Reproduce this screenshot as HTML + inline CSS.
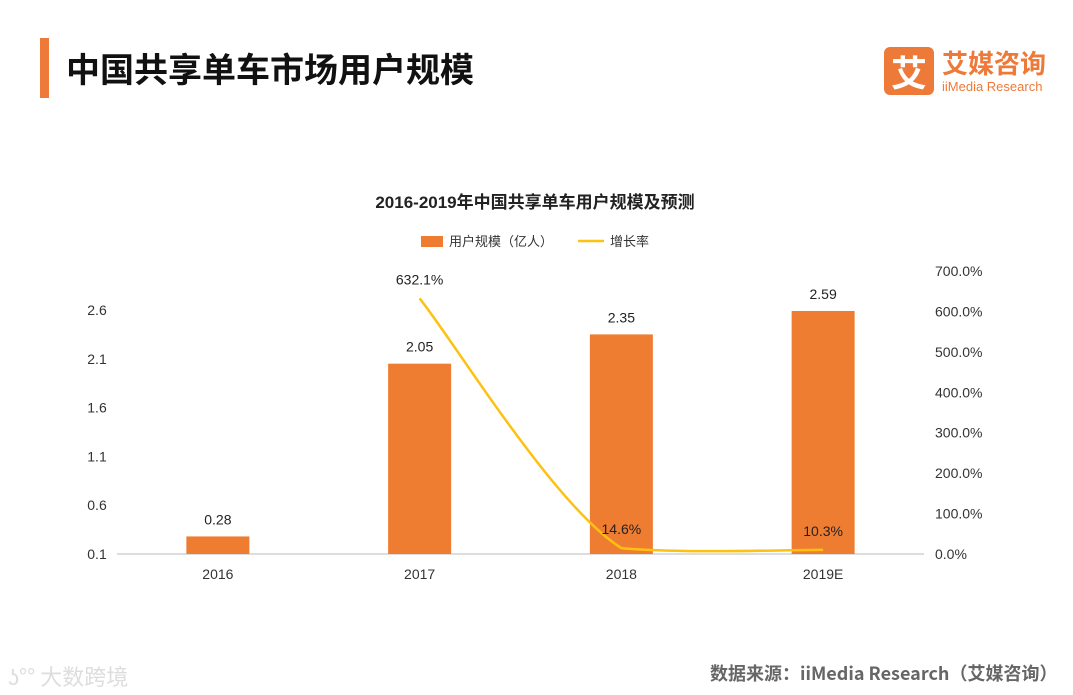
<!DOCTYPE html>
<html><head><meta charset="utf-8"><style>
body{margin:0;width:1073px;height:695px;background:#fff;overflow:hidden;font-family:"Liberation Sans","Noto Sans CJK SC",sans-serif;position:relative}
.abs{position:absolute}
</style></head><body>
<div class="abs" style="left:40px;top:38px;width:9px;height:60px;background:#ee7a3a"></div>
<div class="abs" style="left:66px;top:44px;font-size:34px;font-weight:bold;color:#111;font-family:'Noto Sans CJK SC',sans-serif;line-height:48px">中国共享单车市场用户规模</div>
<div class="abs" style="left:884px;top:47px;width:50px;height:48px;background:#ee7a3a;border-radius:6px;color:#fff;font-size:36px;font-weight:bold;text-align:center;line-height:48px;font-family:'Noto Sans CJK SC',sans-serif">艾</div>
<div class="abs" style="left:942px;top:46px;font-size:26px;color:#ee7a3a;font-family:'Noto Sans CJK SC',sans-serif;line-height:34px;font-weight:bold">艾媒咨询</div>
<div class="abs" style="left:942px;top:79px;font-size:13px;color:#ee7a3a">iiMedia Research</div>
<div class="abs" style="left:8px;top:660px;font-size:22px;color:#ddd;font-family:'Noto Sans CJK SC',sans-serif">ʖ°° 大数跨境</div>
<div class="abs" style="left:710px;top:660px;font-size:18px;color:#666;font-family:'Noto Sans CJK SC',sans-serif;font-weight:bold">数据来源：iiMedia Research（艾媒咨询）</div>
<svg class="abs" style="left:0;top:0" width="1073" height="695" id="chart">
<text x="535" y="208" text-anchor="middle" font-size="17" font-weight="bold" fill="#222">2016-2019年中国共享单车用户规模及预测</text>
<rect x="421" y="236" width="22" height="11" fill="#ee7d31"/>
<text x="449" y="246" font-size="13" fill="#333">用户规模（亿人）</text>
<line x1="578" y1="241" x2="604" y2="241" stroke="#fdc112" stroke-width="2.5"/>
<text x="610" y="246" font-size="13" fill="#333">增长率</text>
<g id="g"></g>
</svg>
<script>
const categories=["2016","2017","2018","2019E"];
const users=[0.28,2.05,2.35,2.59];
const userLabels=["0.28","2.05","2.35","2.59"];
const growth=[null,632.1,14.6,10.3];
const growthLabels=["","632.1%","14.6%","10.3%"];
const leftTicks=[0.1,0.6,1.1,1.6,2.1,2.6];
const rightTicks=[0,100,200,300,400,500,600,700];
const NS="http://www.w3.org/2000/svg",g=document.getElementById('g');
const x0=117,x1=924,base=554;
const xc=i=>x0+(x1-x0)/categories.length*(i+0.5);
const yL=v=>base-(v-0.1)/2.5*244;
const yR=v=>base-v/700*283;
function el(t,a,txt){const e=document.createElementNS(NS,t);for(const k in a)e.setAttribute(k,a[k]);if(txt!=null)e.textContent=txt;g.appendChild(e);return e;}
const ax=el('line',{x1:x0,y1:base,x2:x1,y2:base,stroke:'#bbb','stroke-width':1});


leftTicks.forEach(v=>{const t=el('text',{x:97,y:yL(v)+5,'text-anchor':'middle','font-size':14,fill:'#333'},v.toFixed(1));

});
rightTicks.forEach(v=>{const t=el('text',{x:935,y:yR(v)+5,'font-size':14,fill:'#333'},v.toFixed(1)+'%');

});
categories.forEach((c,i)=>{
const y=yL(users[i]);
const r=el('rect',{x:xc(i)-31.5,y:y,width:63,height:base-y,fill:'#ee7d31'});


const t=el('text',{x:xc(i),y:y-12,'text-anchor':'middle','font-size':14,fill:'#222'},userLabels[i]);


const xl=el('text',{x:xc(i),y:579,'text-anchor':'middle','font-size':14,fill:'#333'},c);


});
const pts=[];growth.forEach((v,i)=>{if(v!=null)pts.push([xc(i),yR(v),i]);});
const cl=y=>Math.min(base,y);
let d='M'+pts[0][0]+','+pts[0][1];
for(let k=0;k<pts.length-1;k++){const p0=pts[Math.max(0,k-1)],p1=pts[k],p2=pts[k+1],p3=pts[Math.min(pts.length-1,k+2)];
const c1=[p1[0]+(p2[0]-p0[0])/6,cl(p1[1]+(p2[1]-p0[1])/6)],c2=[p2[0]-(p3[0]-p1[0])/6,cl(p2[1]-(p3[1]-p1[1])/6)];
d+=` C${c1[0]},${c1[1]} ${c2[0]},${c2[1]} ${p2[0]},${p2[1]}`;}
const ln=el('path',{d:d,fill:'none',stroke:'#fdc112','stroke-width':2.5});


pts.forEach(p=>{const t=el('text',{x:p[0],y:p[1]-14,'text-anchor':'middle','font-size':14,fill:'#222'},growthLabels[p[2]]);

});
</script>
</body></html>
